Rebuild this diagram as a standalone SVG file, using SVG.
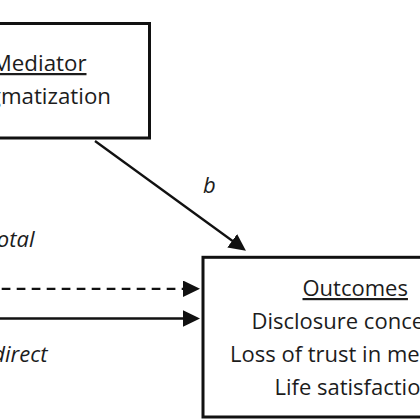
<svg xmlns="http://www.w3.org/2000/svg" width="420" height="420" viewBox="0 0 420 420">
<style>
.box{fill:#fff;stroke:#111;stroke-width:3}
.t{font-family:"Open Sans","Liberation Sans",sans-serif;fill:#1c1c1c}
.lbl{font-family:"Open Sans","Liberation Sans",sans-serif;font-style:italic;font-size:22px;fill:#1c1c1c}
.ln{stroke:#111;stroke-width:2.3;fill:none}
</style>
<defs>
<marker id="ah" markerUnits="userSpaceOnUse" markerWidth="18" markerHeight="18" refX="12" refY="8.3" orient="auto">
<path d="M0,0 L17,8.3 L0,16.6 z" fill="#111"/>
</marker>
</defs>
<rect width="420" height="420" fill="#fff"/>
<g id="connectors">
<line class="ln" x1="95" y1="141" x2="241.9" y2="247.8" marker-end="url(#ah)"/>
<line class="ln" x1="1.7" y1="288.8" x2="195" y2="288.8" stroke-dasharray="8.7 6.3" marker-end="url(#ah)"/>
<line class="ln" x1="-5" y1="318.5" x2="195" y2="318.5" marker-end="url(#ah)"/>
<text class="lbl" x="203" y="192.7">b</text>
<text class="lbl" x="34.5" y="247" text-anchor="end">total</text>
<text class="lbl" x="47.5" y="362" text-anchor="end" font-size="23">direct</text>
</g>
<g id="mediator">
<rect class="box" x="-10" y="23.5" width="159.5" height="114.5"/>
<text class="t" x="86.5" y="71" font-size="22.3" text-anchor="end" text-decoration="underline">Mediator</text>
<text class="t" x="111" y="104" font-size="22.3" text-anchor="end">Stigmatization</text>
</g>
<g id="outcomes">
<rect class="box" x="203" y="257.3" width="260" height="159.7"/>
<text class="t" x="302.5" y="296" font-size="22" text-decoration="underline">Outcomes</text>
<text class="t" x="251.5" y="329" font-size="22">Disclosure concerns</text>
<text class="t" x="230" y="361.7" font-size="22">Loss of trust in me</text>
<text class="t" x="274.5" y="394.5" font-size="22">Life satisfaction</text>
</g>
</svg>
